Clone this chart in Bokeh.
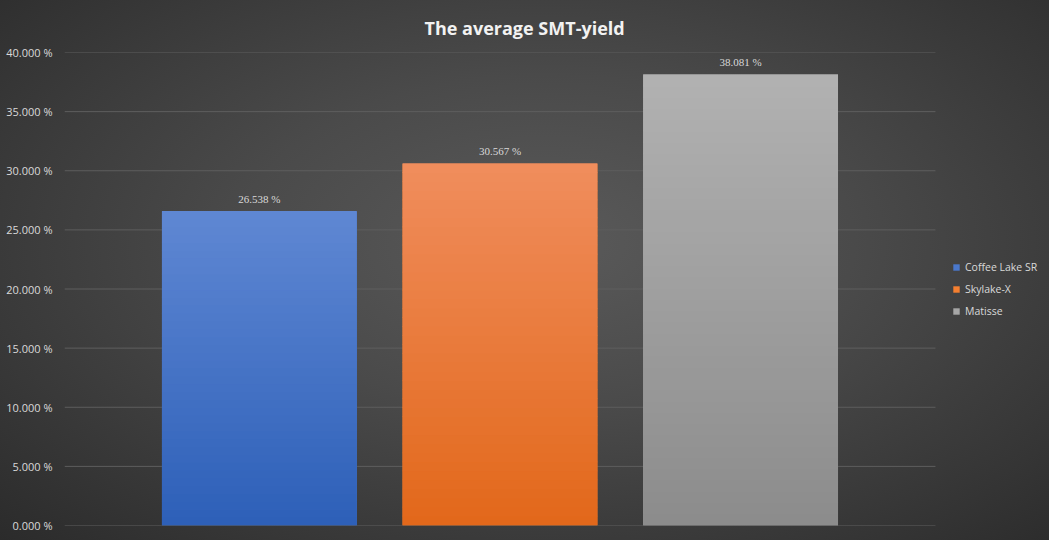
from bokeh.plotting import figure
from bokeh.models import (ColumnDataSource, Range1d, CustomJSTickFormatter, Legend,
                          LegendItem, LabelSet, FixedTicker)
from bokeh.embed import file_html
from bokeh.resources import INLINE

# ---- data ----
series = ["Coffee Lake SR", "Skylake-X", "Matisse"]
values = [26.538, 30.567, 38.081]
y_ticks = [0, 5, 10, 15, 20, 25, 30, 35, 40]

# ---- styles ----
top_colors = ["#5f88d3", "#f08d5d", "#b1b1b1"]
bottom_colors = ["#2d5fb8", "#e2681a", "#8c8c8c"]
legend_colors = ["#4a78cc", "#f47f30", "#a6a6a6"]
text_color = "#d9d9d9"
FONT = "Open Sans"
N_SLICES = 40
BAR_W = 0.81
GRID_END = len(series) - 1 + BAR_W      # gridlines stop where the plot area ends
X_END = GRID_END + 0.474                # room on the right for the legend

def hex2rgb(h):
    h = h.lstrip("#")
    return tuple(int(h[i:i + 2], 16) for i in (0, 2, 4))

def mix(c1, c2, t):
    a, b = hex2rgb(c1), hex2rgb(c2)
    return "#%02x%02x%02x" % tuple(round(a[k] + (b[k] - a[k]) * t) for k in range(3))

p = figure(width=1049, height=540, output_backend="svg", toolbar_location=None,
           x_range=Range1d(-BAR_W, X_END),
           y_range=Range1d(0, 40),
           min_border_left=64, min_border_right=0,
           min_border_top=52, min_border_bottom=15,
           styles={"background": "radial-gradient(ellipse at 52% 45%, #5a5a5a 0%, #4a4a4a 40%, #2b2b2b 100%)"})
p.background_fill_alpha = 0
p.border_fill_alpha = 0
p.outline_line_color = None

p.title.text = "The average SMT-yield"
p.title.align = "left"
p.title.text_color = "#f2f2f2"
p.title.text_font = FONT
p.title.text_font_size = "18px"
p.title.text_font_style = "bold"
p.title.offset = 360
p.title.standoff = 26

p.xaxis.visible = False
p.xgrid.visible = False
p.ygrid.visible = False
p.yaxis.ticker = FixedTicker(ticks=y_ticks)
p.yaxis.formatter = CustomJSTickFormatter(code="return tick.toFixed(3) + ' %';")
p.yaxis.axis_line_color = None
p.yaxis.major_tick_line_color = None
p.yaxis.minor_tick_line_color = None
p.yaxis.major_label_text_color = text_color
p.yaxis.major_label_text_font = FONT
p.yaxis.major_label_text_font_size = "11px"
p.yaxis.major_label_standoff = 6

# horizontal gridlines at the tick values, limited to the plot area
p.segment(x0=[-BAR_W] * len(y_ticks), x1=[GRID_END] * len(y_ticks), y0=y_ticks, y1=y_ticks,
          line_color="#5e5e5e", line_width=1)

xs = list(range(len(series)))

# solid bars (legend carriers)
items = []
for i, (name, v) in enumerate(zip(series, values)):
    src = ColumnDataSource(dict(x=[xs[i]], top=[v]))
    r = p.vbar(x="x", top="top", width=BAR_W, source=src, fill_color=legend_colors[i],
               line_color=None)
    items.append(LegendItem(label=name, renderers=[r]))

# gradient overlay slices
gx, gb, gt, gc = [], [], [], []
for i, v in enumerate(values):
    for k in range(N_SLICES):
        gx.append(xs[i])
        gb.append(v * k / N_SLICES)
        gt.append(v * (k + 1) / N_SLICES + v * 0.002)
        gc.append(mix(bottom_colors[i], top_colors[i], (k + 0.5) / N_SLICES))
p.vbar(x="x", bottom="bottom", top="top", width=BAR_W, color="c", line_color=None,
       source=ColumnDataSource(dict(x=gx, bottom=gb, top=gt, c=gc)))

# data labels
lab_src = ColumnDataSource(dict(x=xs, y=values, t=["%.3f %%" % v for v in values]))
p.add_layout(LabelSet(x="x", y="y", text="t", source=lab_src, text_align="center",
                      text_baseline="bottom", y_offset=7, text_color=text_color,
                      text_font=FONT, text_font_size="11px"))

legend = Legend(items=items, location=(888, 207), border_line_color=None,
                background_fill_alpha=0, label_text_color=text_color,
                label_text_font=FONT, label_text_font_size="10.5px",
                glyph_width=8, glyph_height=8, label_height=14, spacing=8,
                label_standoff=5, padding=0, margin=0)
p.add_layout(legend)

open("out.html", "w").write(file_html(p, INLINE))
